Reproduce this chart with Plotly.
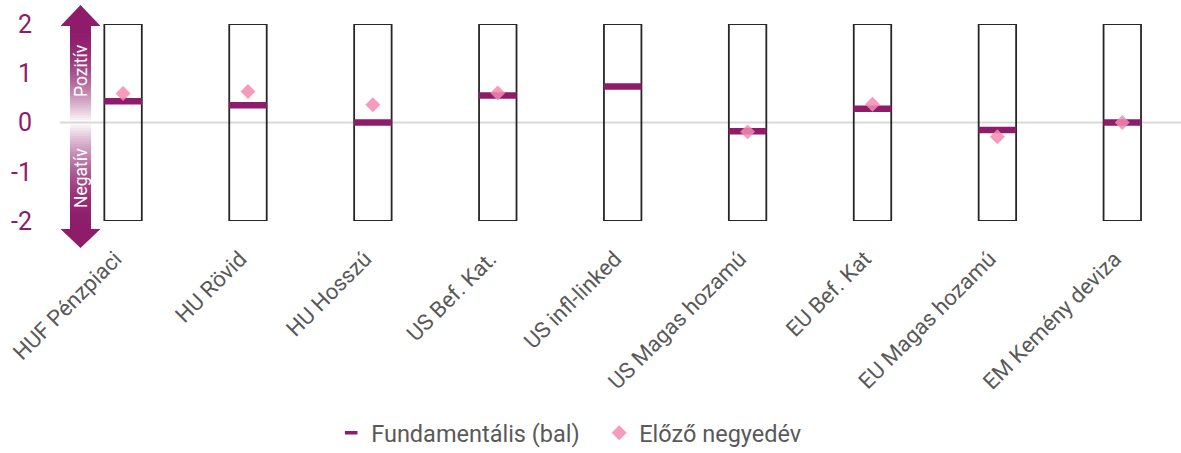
import plotly.graph_objects as go

categories = ["HUF Pénzpiaci", "HU Rövid", "HU Hosszú", "US Bef. Kat.", "US infl-linked",
              "US Magas hozamú", "EU Bef. Kat", "EU Magas hozamú", "EM Kemény deviza"]
fundamental = [0.43, 0.35, 0.0, 0.55, 0.73, -0.18, 0.28, -0.15, 0.0]
previous = [0.59, 0.63, 0.36, 0.60, None, -0.19, 0.37, -0.29, 0.0]
box_low = [-2] * 9
box_high = [2] * 9
y_ticks = [2, 1, 0, -1, -2]

W, H = 1181, 453
L, R, T, B = 60, 0, 24, 232
PURPLE = "#8E1C6B"
PINK = "#F48AB0"
GREY = "#595959"
FONT = "Roboto"

fig = go.Figure()

fig.add_trace(go.Bar(
    x=categories, y=[h - l for h, l in zip(box_high, box_low)], base=box_low,
    width=0.3, marker=dict(color="rgba(0,0,0,0)", line=dict(color="#262626", width=1.8)),
    showlegend=False, hoverinfo="skip"))

fig.add_trace(go.Scatter(
    x=categories, y=fundamental, mode="markers", name="Fundamentális (bal)",
    showlegend=False,
    marker=dict(symbol="line-ew", size=27, line=dict(color=PURPLE, width=6.5))))
# legend entry for the fundamentals
fig.add_trace(go.Scatter(
    x=[None], y=[None], mode="markers", name="Fundamentális (bal)",
    marker=dict(symbol="line-ew", size=9, line=dict(color=PURPLE, width=3.5))))

fig.add_trace(go.Scatter(
    x=categories, y=previous, mode="markers", name="Előző negyedév",
    marker=dict(symbol="diamond", size=11.5, color=PINK, opacity=0.85, line=dict(width=0))))

# pixel -> paper helpers for the decorative arrow
pw = W - L - R
ph = H - T - B
def px(x):
    return (x - L) / pw
def py(y):
    return (H - B - y) / ph

shapes = []

def mix(t):
    # t = 0 at arrow end (purple), 1 at centre (white); purple holds longer
    w = t ** 2.0
    c1 = (0x8E, 0x1C, 0x6B)
    c2 = (0xFF, 0xFF, 0xFF)
    return "rgb(%d,%d,%d)" % tuple(round(a + (b - a) * w) for a, b in zip(c1, c2))

top, mid, bot = 25.5, 122.5, 229.5
n = 40
for i in range(n):
    y0 = top + (mid - top) * i / n
    y1 = top + (mid - top) * (i + 1) / n + 1.2
    shapes.append(dict(type="rect", xref="paper", yref="paper", x0=px(70), x1=px(91),
                       y0=py(y0), y1=py(y1), fillcolor=mix((i + 0.5) / n),
                       line=dict(width=0), layer="below"))
for i in range(n):
    y0 = bot - (bot - mid) * i / n
    y1 = bot - (bot - mid) * (i + 1) / n - 1.2
    shapes.append(dict(type="rect", xref="paper", yref="paper", x0=px(70), x1=px(91),
                       y0=py(y0), y1=py(y1), fillcolor=mix((i + 0.5) / n),
                       line=dict(width=0), layer="below"))
shapes.append(dict(type="path", xref="paper", yref="paper",
                   path="M %f,%f L %f,%f L %f,%f Z" % (px(80.5), py(5), px(60.5), py(26), px(100.5), py(26)),
                   fillcolor=PURPLE, line=dict(width=0), layer="below"))
shapes.append(dict(type="path", xref="paper", yref="paper",
                   path="M %f,%f L %f,%f L %f,%f Z" % (px(80.5), py(248), px(60.5), py(229), px(100.5), py(229)),
                   fillcolor=PURPLE, line=dict(width=0), layer="below"))
# zero line
shapes.append(dict(type="line", xref="paper", yref="y", x0=0, x1=1, y0=0, y1=0,
                   line=dict(color="#D9D9D9", width=2), layer="below"))

annotations = [
    dict(text="Pozitív", xref="paper", yref="paper", x=px(81), y=py(71), textangle=-90,
         xanchor="center", yanchor="middle",
         showarrow=False, font=dict(family=FONT, size=17.5, color="white")),
    dict(text="Negatív", xref="paper", yref="paper", x=px(81), y=py(178), textangle=-90,
         xanchor="center", yanchor="middle",
         showarrow=False, font=dict(family=FONT, size=17.5, color="white")),
]

fig.update_layout(
    width=W, height=H,
    margin=dict(l=L, r=R, t=T, b=B, autoexpand=False),
    paper_bgcolor="white", plot_bgcolor="white",
    shapes=shapes, annotations=annotations,
    xaxis=dict(range=[-0.505, 8.47], showgrid=False, zeroline=False, showline=False,
               tickangle=-45, ticks="", ticklabelstandoff=12,
               tickvals=categories, ticktext=[c + "\u00a0\u00a0" for c in categories],
               tickfont=dict(family=FONT, size=22, color=GREY)),
    yaxis=dict(range=[-2, 2], tickvals=y_ticks, ticktext=[str(v) for v in y_ticks],
               showgrid=False, zeroline=False, showline=False, ticks="",
               ticklabelstandoff=27,
               tickfont=dict(family=FONT, size=25, color=PURPLE)),
    legend=dict(orientation="h", x=0.481, xanchor="center", y=-1.076, yanchor="middle",
                font=dict(family=FONT, size=23.5, color=GREY), itemwidth=30,
                entrywidth=223, entrywidthmode="pixels",
                traceorder="normal"),
    showlegend=True,
)

fig.write_html("out.html", config={"displayModeBar": False},
               post_script="document.body.style.margin='0';")
